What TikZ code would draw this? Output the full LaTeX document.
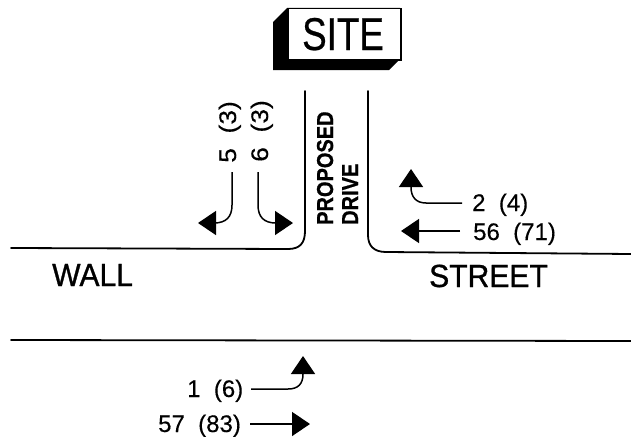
\documentclass[tikz,border=0pt]{standalone}
\usepackage{fontspec}
\setmainfont{Liberation Sans}
\newfontfamily\heavyfont[FakeBold=0.6]{Liberation Sans}
\newfontfamily\heavierfont[FakeBold=1.0]{Liberation Sans}
\newfontfamily\drivefont[FakeBold=0.8]{Liberation Sans Bold}
\newfontfamily\countfont[FakeBold=0.25]{Liberation Sans}
\usetikzlibrary{arrows.meta}
\tikzset{
  road/.style={line width=1.8pt,line cap=round},
  flow/.style={line width=1.5pt,-{Triangle[length=18pt,width=24pt]}},
  countlabel/.style={inner sep=0pt,anchor=base west,font=\fontsize{24}{24}\countfont},
  streetname/.style={inner sep=0pt,anchor=base west,font=\fontsize{32}{32}\heavierfont,xscale=.94},
  drivename/.style={inner sep=0pt,anchor=base west,rotate=90,xscale=.87,font=\fontsize{23}{23}\drivefont},
}
\begin{document}
\begin{tikzpicture}[x=1pt,y=-1pt]
\useasboundingbox (0,0) rectangle (631,436);
% site box
\fill[black] (273,22) -- (287,8) -- (400,8) -- (400,59) -- (389,70) -- (273,70) -- cycle;
\node[draw=black,fill=white,line width=1.5pt,minimum width=113pt,minimum height=51pt,inner sep=0pt,anchor=north west] (sitebox) at (287,8) {};
\node[inner sep=0pt,anchor=base west,xscale=.8,font=\fontsize{46}{46}\heavyfont] (site) at (302,50) {SITE};
% roads
\draw[road] (305,91) -- (305,231) .. controls (305,243) and (300,249) .. (288,249) -- (11,248);
\draw[road] (368,91) -- (368,235) .. controls (368,246) and (374,252) .. (386,252) -- (631,254);
\draw[road] (11,340) -- (631,341);
% labels
\node[streetname] (wall) at (52,286) {WALL};
\node[streetname] (street) at (429,287) {STREET};
\node[drivename] (proposed) at (333,225) {PROPOSED};
\node[drivename] (drive) at (358,225) {DRIVE};
\node[countlabel,rotate=90,xscale=1.1] (lfive) at (236,163) {5~~(3)};
\node[countlabel,rotate=90,xscale=1.1] (lsix) at (268,162) {6~~(3)};
\node[countlabel] (ltwo) at (472,211) {2~~(4)};
\node[countlabel] (lfiftysix) at (473,240) {56~~(71)};
\node[countlabel] (lone) at (187,397) {1~~(6)};
\node[countlabel] (lfiftyseven) at (158,432) {57~~(83)};
% arrow ends
\coordinate (afive) at (232,172);
\coordinate (tfive) at (198,223);
\coordinate (asix) at (258,172);
\coordinate (tsix) at (293,223);
\coordinate (atwo) at (462,203);
\coordinate (ttwo) at (411,169);
\coordinate (afs) at (460,231);
\coordinate (tfs) at (401,231);
\coordinate (aone) at (251,389);
\coordinate (tone) at (303,356);
\coordinate (asv) at (250,424);
\coordinate (tsv) at (310,424);
\draw[flow] (afive) -- (232,205) .. controls (232,217) and (226,223) .. (214,223) -- (tfive);
\draw[flow] (asix) -- (258,205) .. controls (258,217) and (264,223) .. (276,223) -- (tsix);
\draw[flow] (atwo) -- (426,203) .. controls (416,203) and (411,197) .. (411,187) -- (ttwo);
\draw[flow] (afs) -- (tfs);
\draw[flow] (aone) -- (288,389) .. controls (298,389) and (303,384) .. (303,374) -- (tone);
\draw[flow] (asv) -- (tsv);
\end{tikzpicture}
\end{document}
